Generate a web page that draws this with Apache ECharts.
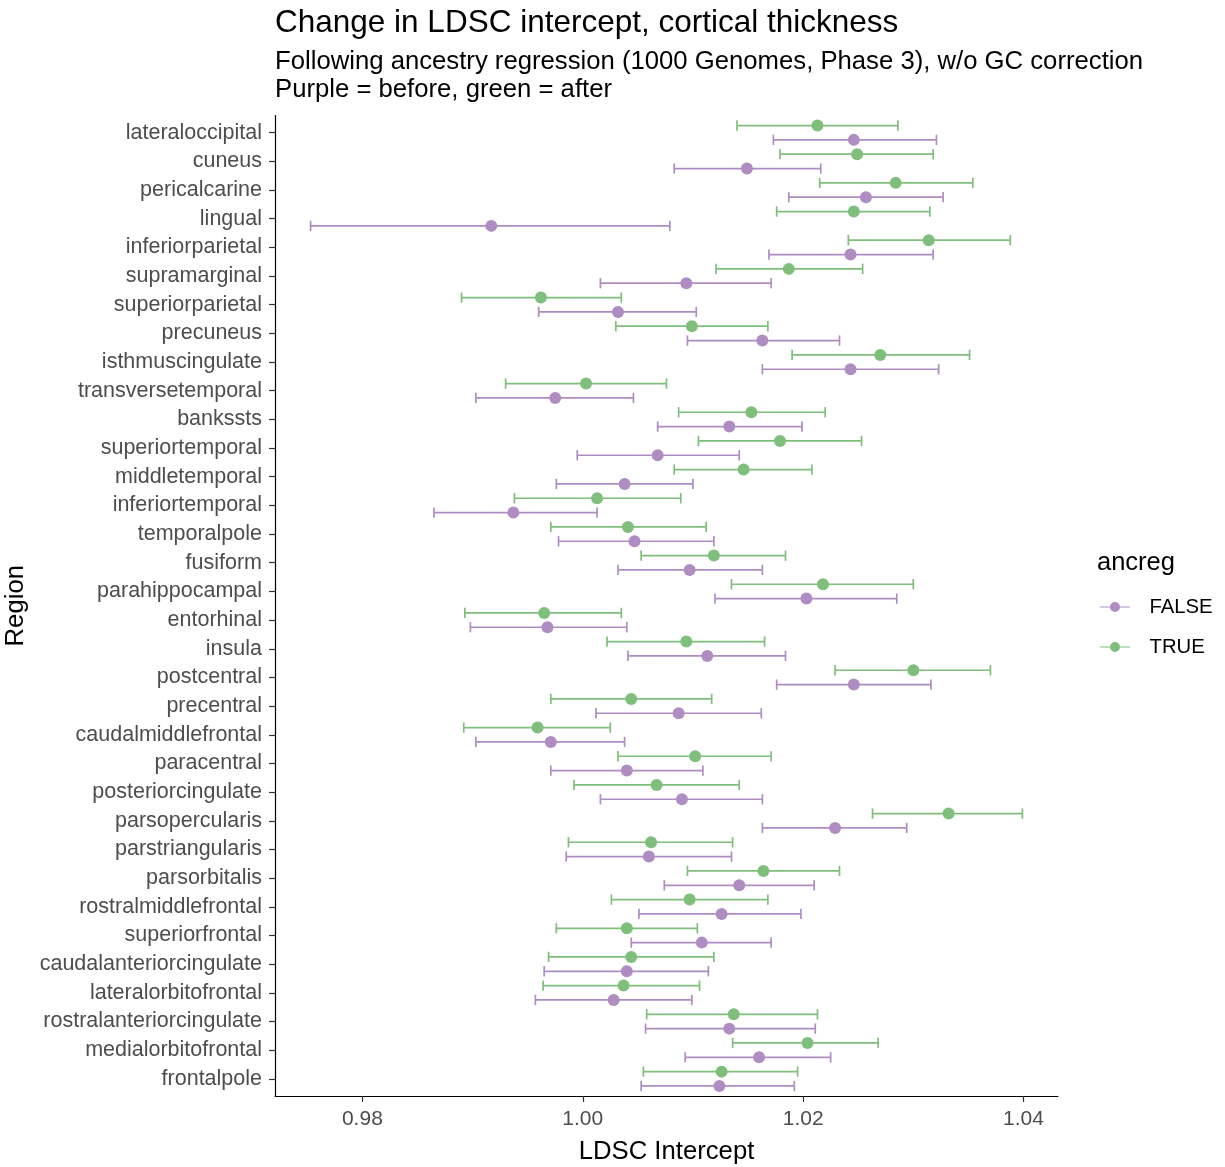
<!DOCTYPE html>
<html>
<head>
<meta charset="utf-8">
<script src="https://cdn.jsdelivr.net/npm/echarts@6/dist/echarts.min.js"></script>
<style>
  html, body { margin: 0; padding: 0; background: #fff; }
  #chart { width: 1225px; height: 1167px; }
</style>
</head>
<body>
<div id="chart"></div>
<script>
// Cortical regions, top to bottom
const regions = [
  'lateraloccipital', 'cuneus', 'pericalcarine', 'lingual', 'inferiorparietal',
  'supramarginal', 'superiorparietal', 'precuneus', 'isthmuscingulate', 'transversetemporal',
  'bankssts', 'superiortemporal', 'middletemporal', 'inferiortemporal', 'temporalpole',
  'fusiform', 'parahippocampal', 'entorhinal', 'insula', 'postcentral',
  'precentral', 'caudalmiddlefrontal', 'paracentral', 'posteriorcingulate', 'parsopercularis',
  'parstriangularis', 'parsorbitalis', 'rostralmiddlefrontal', 'superiorfrontal', 'caudalanteriorcingulate',
  'lateralorbitofrontal', 'rostralanteriorcingulate', 'medialorbitofrontal', 'frontalpole'
];

// ancreg = FALSE (before ancestry regression): estimate, lower, upper
const beforeEst = [1.0246, 1.0149, 1.0257, 0.9917, 1.0243, 1.0094, 1.0032, 1.0163, 1.0243, 0.9975,
  1.0133, 1.0068, 1.0038, 0.9937, 1.0047, 1.0097, 1.0203, 0.9968, 1.0113, 1.0246,
  1.0087, 0.9971, 1.0040, 1.0090, 1.0229, 1.0060, 1.0142, 1.0126, 1.0108, 1.0040,
  1.0028, 1.0133, 1.0160, 1.0124];
const beforeLo = [1.0173, 1.0083, 1.0187, 0.9753, 1.0169, 1.0016, 0.9960, 1.0095, 1.0163, 0.9903,
  1.0068, 0.9995, 0.9976, 0.9865, 0.9978, 1.0032, 1.0120, 0.9898, 1.0041, 1.0176,
  1.0012, 0.9903, 0.9971, 1.0016, 1.0163, 0.9985, 1.0074, 1.0051, 1.0044, 0.9965,
  0.9957, 1.0057, 1.0093, 1.0053];
const beforeHi = [1.0321, 1.0216, 1.0327, 1.0079, 1.0318, 1.0171, 1.0103, 1.0233, 1.0323, 1.0046,
  1.0199, 1.0142, 1.0100, 1.0013, 1.0119, 1.0163, 1.0285, 1.0040, 1.0184, 1.0316,
  1.0162, 1.0038, 1.0109, 1.0163, 1.0294, 1.0135, 1.0210, 1.0198, 1.0171, 1.0114,
  1.0099, 1.0211, 1.0225, 1.0192];

// ancreg = TRUE (after ancestry regression): estimate, lower, upper
const afterEst = [1.0213, 1.0249, 1.0284, 1.0246, 1.0314, 1.0187, 0.9962, 1.0099, 1.0270, 1.0003,
  1.0153, 1.0179, 1.0146, 1.0013, 1.0041, 1.0119, 1.0218, 0.9965, 1.0094, 1.0300,
  1.0044, 0.9959, 1.0102, 1.0067, 1.0332, 1.0062, 1.0164, 1.0097, 1.0040, 1.0044,
  1.0037, 1.0137, 1.0204, 1.0126];
const afterLo = [1.0140, 1.0179, 1.0215, 1.0176, 1.0241, 1.0121, 0.9890, 1.0030, 1.0190, 0.9930,
  1.0087, 1.0105, 1.0083, 0.9938, 0.9971, 1.0053, 1.0135, 0.9893, 1.0022, 1.0229,
  0.9971, 0.9892, 1.0032, 0.9992, 1.0263, 0.9987, 1.0095, 1.0026, 0.9976, 0.9969,
  0.9964, 1.0058, 1.0136, 1.0055];
const afterHi = [1.0286, 1.0318, 1.0354, 1.0315, 1.0388, 1.0254, 1.0035, 1.0168, 1.0351, 1.0076,
  1.0220, 1.0253, 1.0208, 1.0089, 1.0112, 1.0184, 1.0300, 1.0035, 1.0165, 1.0370,
  1.0117, 1.0025, 1.0171, 1.0142, 1.0399, 1.0136, 1.0233, 1.0168, 1.0104, 1.0119,
  1.0106, 1.0213, 1.0268, 1.0195];

const xTicks = [0.98, 1.00, 1.02, 1.04];

const groups = ['FALSE', 'TRUE'];
const colors = { FALSE: '#AF8DC3', TRUE: '#7FBF7B' };
const FONT = '"Liberation Sans", Arial, sans-serif';

// dodge: TRUE sits slightly above the region line, FALSE slightly below
const DODGE = { FALSE: 0.25, TRUE: -0.25 };
const CAP = 0.18;

// x range: data extent with 5% padding each side
const allLo = beforeLo.concat(afterLo), allHi = beforeHi.concat(afterHi);
const xmin0 = Math.min(...allLo), xmax0 = Math.max(...allHi);
const pad = (xmax0 - xmin0) * 0.05;

function bars(lo, hi, g) {
  return regions.map((r, i) => [i + DODGE[g], lo[i], hi[i]]);
}
function points(est, g) {
  return regions.map((r, i) => [est[i], i + DODGE[g]]);
}

function errorBar(color) {
  return function (params, api) {
    const y = api.value(0);
    const p0 = api.coord([api.value(1), y]);
    const p1 = api.coord([api.value(2), y]);
    const h = api.size([0, CAP])[1];
    const style = { stroke: color, lineWidth: 1.7, fill: null };
    return {
      type: 'group',
      children: [
        { type: 'line', shape: { x1: p0[0], y1: p0[1], x2: p1[0], y2: p1[1] }, style },
        { type: 'line', shape: { x1: p0[0], y1: p0[1] - h, x2: p0[0], y2: p0[1] + h }, style },
        { type: 'line', shape: { x1: p1[0], y1: p1[1] - h, x2: p1[0], y2: p1[1] + h }, style }
      ]
    };
  };
}

const series = [];
const sets = {
  FALSE: { est: beforeEst, lo: beforeLo, hi: beforeHi },
  TRUE: { est: afterEst, lo: afterLo, hi: afterHi }
};
groups.forEach(g => {
  series.push({
    name: g, type: 'custom', renderItem: errorBar(colors[g]),
    itemStyle: { color: colors[g] },
    encode: { x: [1, 2], y: 0 },
    data: bars(sets[g].lo, sets[g].hi, g),
    silent: true, z: 2
  });
});
groups.forEach(g => {
  series.push({
    name: g, type: 'scatter', symbol: 'circle', symbolSize: 12,
    itemStyle: { color: colors[g], opacity: 1 },
    data: points(sets[g].est, g),
    emphasis: { disabled: true }, silent: true, z: 3
  });
});

const legendIcon = 'path://M0,4.6h10v0.8h-10z M20,4.6h10v0.8h-10z M10,5a5,5 0 1,0 10,0a5,5 0 1,0 -10,0z';

const chart = echarts.init(document.getElementById('chart'), null, { renderer: 'canvas' });
chart.setOption({
  backgroundColor: '#ffffff',
  animation: false,
  title: [
    {
      text: 'Change in LDSC intercept, cortical thickness',
      left: 275, top: 5, padding: 0,
      textStyle: { fontFamily: FONT, fontSize: 31.5, fontWeight: 'normal', color: '#000', lineHeight: 36 }
    },
    {
      text: 'Following ancestry regression (1000 Genomes, Phase 3), w/o GC correction\nPurple = before, green = after',
      left: 275, top: 48, padding: 0,
      textStyle: { fontFamily: FONT, fontSize: 25.7, fontWeight: 'normal', color: '#000', lineHeight: 28 }
    },
    {
      text: 'ancreg',
      left: 1097, top: 549, padding: 0,
      textStyle: { fontFamily: FONT, fontSize: 25.5, fontWeight: 'normal', color: '#000', lineHeight: 28 }
    }
  ],
  legend: {
    orient: 'vertical', left: 1100, top: 597, padding: 0,
    itemWidth: 31, itemHeight: 10, itemGap: 20,
    selectedMode: false,
    data: groups.map(g => ({ name: g, icon: legendIcon, itemStyle: { color: colors[g] } })),
    textStyle: { fontFamily: FONT, fontSize: 20.3, color: '#000', lineHeight: 20, padding: [0, 0, 0, 14] }
  },
  grid: { left: 275, right: 167, top: 115.5, bottom: 71, containLabel: false, outerBoundsMode: 'none' },
  xAxis: {
    type: 'value', min: xmin0 - pad, max: xmax0 + pad,
    name: 'LDSC Intercept', nameLocation: 'middle', nameGap: 43,
    nameTextStyle: { fontFamily: FONT, fontSize: 25.7, color: '#000' },
    axisLine: { show: true, onZero: false, lineStyle: { color: '#000', width: 1.2 } },
    axisTick: { show: true, length: 6, customValues: xTicks, lineStyle: { color: '#333', width: 1.2 } },
    axisLabel: {
      customValues: xTicks, margin: 13,
      formatter: v => v.toFixed(2),
      fontFamily: FONT, fontSize: 21, color: '#4D4D4D'
    },
    splitLine: { show: false }
  },
  yAxis: {
    type: 'value', inverse: true, min: -0.6, max: regions.length - 0.4,
    name: 'Region', nameLocation: 'middle', nameGap: 240, nameRotate: 90,
    nameTextStyle: { fontFamily: FONT, fontSize: 25.7, color: '#000' },
    axisLine: { show: true, onZero: false, lineStyle: { color: '#000', width: 1.2 } },
    axisTick: { show: true, length: 6, customValues: regions.map((r, i) => i), lineStyle: { color: '#333', width: 1.2 } },
    axisLabel: {
      customValues: regions.map((r, i) => i), margin: 13,
      formatter: v => regions[Math.round(v)],
      fontFamily: FONT, fontSize: 21.5, color: '#4D4D4D'
    },
    splitLine: { show: false }
  },
  series: series
});
</script>
</body>
</html>
